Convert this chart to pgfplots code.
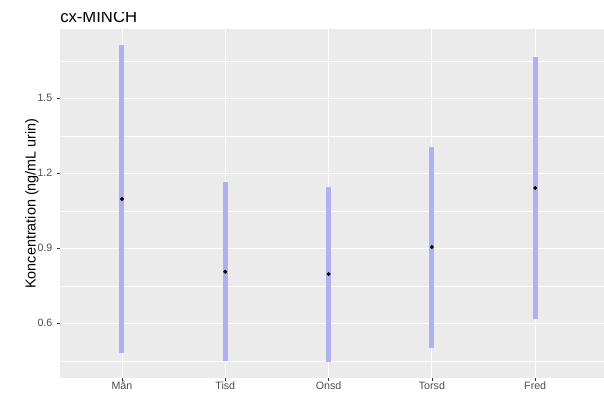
\documentclass[border=0pt]{standalone}
\usepackage{pgfplots}
\pgfplotsset{compat=1.18}
\usepackage{fontspec}
\setmainfont{Liberation Sans}

\definecolor{panel}{HTML}{EBEBEB}
\definecolor{rangecol}{HTML}{B0B0F0}
\definecolor{ticktext}{HTML}{4D4D4D}
\definecolor{tickline}{HTML}{333333}

% day, lower bound, point estimate, upper bound
\pgfplotstableread{
x lo mid hi
1 0.482 1.097 1.713
2 0.449 0.806 1.164
3 0.444 0.797 1.145
4 0.500 0.905 1.306
5 0.617 1.141 1.664
}\conc

\begin{document}
\begin{tikzpicture}
\begin{axis}[
  set layers=standard,
  scale only axis, width=408pt, height=261.75pt,
  xmin=0.4, xmax=5.666, ymin=0.381, ymax=1.777,
  axis background/.style={fill=panel},
  axis line style={draw=none},
  xtick={1,2,3,4,5},
  xticklabels={Mån,Tisd,Onsd,Torsd,Fred},
  ytick={0.6,0.9,1.2,1.5},
  minor ytick={0.45,0.75,1.05,1.35,1.65},
  grid=both,
  major grid style={white, line width=0.65pt},
  minor grid style={white, line width=0.3pt},
  tick align=outside,
  xtick pos=bottom, ytick pos=left,
  major tick style={tickline, line width=0.5pt},
  major tick length=2.2pt,
  minor tick length=0pt,
  tick label style={font=\fontsize{8}{9}\selectfont, text=ticktext},
  xticklabel style={yshift=3.2pt},
  /pgf/number format/assume math mode=true,
  yticklabel style={/pgf/number format/fixed, /pgf/number format/fixed zerofill,
    /pgf/number format/precision=1},
  ylabel={Koncentration (ng/mL urin)},
  ylabel style={font=\fontsize{10.8}{12}\selectfont, at={(axis description cs:-0.0515,0.5)}, anchor=center},
  clip=false,
]
% ranges per day
\addplot[draw=rangecol, line width=3.75pt, line cap=butt] coordinates {(1,0.482) (1,1.713)};
\addplot[draw=rangecol, line width=3.75pt, line cap=butt] coordinates {(2,0.449) (2,1.164)};
\addplot[draw=rangecol, line width=3.75pt, line cap=butt] coordinates {(3,0.444) (3,1.145)};
\addplot[draw=rangecol, line width=3.75pt, line cap=butt] coordinates {(4,0.500) (4,1.306)};
\addplot[draw=rangecol, line width=3.75pt, line cap=butt] coordinates {(5,0.617) (5,1.664)};
% point estimates
\addplot[only marks, mark=*, mark size=1.25pt, black] table[x=x, y=mid] {\conc};
\coordinate (pSW) at (rel axis cs:0,0);
\coordinate (pNW) at (rel axis cs:0,1);
\coordinate (pNE) at (rel axis cs:1,1);
\end{axis}
\begin{scope}
  \clip (pNW) rectangle ([yshift=12.75pt]pNE);
  \node[anchor=base west, inner sep=0pt, font=\fontsize{12.5}{14}\selectfont] at ([yshift=4.7pt]pNW) {cx-MINCH};
\end{scope}
\pgfresetboundingbox
\path[use as bounding box] ([xshift=-45pt, yshift=-12pt]pSW) rectangle ([yshift=21.75pt]pNE);
\end{tikzpicture}
\end{document}
